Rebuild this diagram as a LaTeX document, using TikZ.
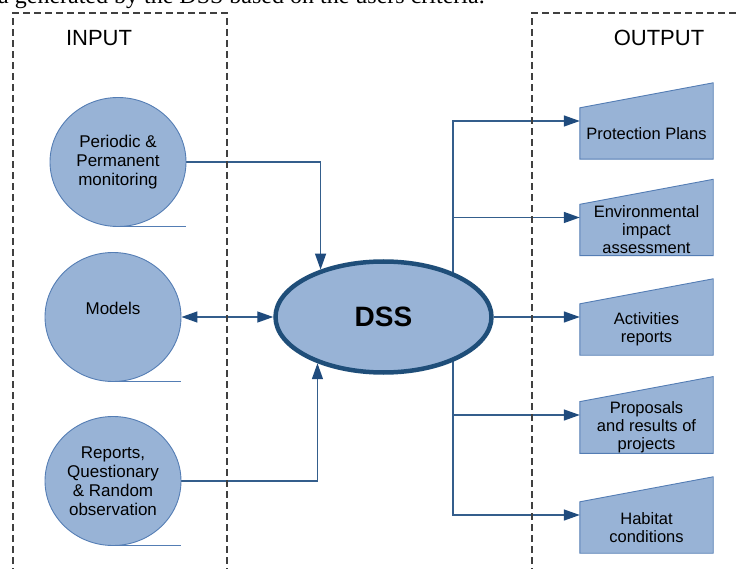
\documentclass[tikz,border=0pt]{standalone}
\usepackage{fontspec}
\setmainfont{Liberation Sans}
\newfontfamily\serifx{Liberation Serif}
\usetikzlibrary{arrows.meta,shapes.geometric,calc,backgrounds}
\definecolor{fillb}{RGB}{152,179,214}
\definecolor{edgeb}{RGB}{84,125,180}
\definecolor{linkb}{RGB}{52,94,140}
\definecolor{headb}{RGB}{31,75,125}
\definecolor{dssb}{RGB}{31,78,121}
\definecolor{dashc}{RGB}{64,64,64}
\begin{document}
\begin{tikzpicture}[x=1pt,y=-1pt,
  src/.style={ellipse, draw=edgeb, line width=0.9pt, fill=fillb, minimum width=136pt, minimum height=129pt, inner sep=0pt, align=center, font=\fontsize{17}{19}\selectfont},
  tail/.style={draw=edgeb, line width=1pt},
  obox/.style={minimum width=133pt, minimum height=51pt, inner sep=0pt, align=center, font=\fontsize{16.5}{18}\selectfont},
  oshape/.style={fill=fillb, draw=edgeb, line width=0.9pt},
  link/.style={draw=linkb, line width=1.4pt},
  arr/.style={link, -{Triangle[length=16pt,width=11pt,color=headb]}},
  biarr/.style={link, {Triangle[length=16pt,width=11pt,color=headb]}-{Triangle[length=16pt,width=11pt,color=headb]}},
  dssnode/.style={ellipse, draw=dssb, line width=4.5pt, fill=fillb, minimum width=216pt, minimum height=111pt, font=\fontsize{28}{32}\selectfont\bfseries},
  dashbox/.style={draw=dashc, line width=1.3pt, dash pattern=on 7pt off 4pt},
  headtext/.style={font=\fontsize{22}{26}\selectfont, inner sep=0pt}
]
\useasboundingbox (0,0) rectangle (736,569);
\clip (0,0) rectangle (736,569);

% caption fragment at top
\node[anchor=base west, inner sep=0pt, font=\serifx\fontsize{24}{28}\selectfont] (cap) at (-2,4) {a generated by the DSS based on the users criteria.};

% dashed frames
\draw[dashbox] (13,575) -- (13,13) -- (227,13) -- (227,575);
\draw[dashbox] (532,575) -- (532,13) -- (745,13);

\node[headtext] (hin) at (99,38) {INPUT};
\node[headtext] (hout) at (659,38) {OUTPUT};

% inputs
\node[src] (p1) at (118,162) {Periodic \&\\Permanent\\monitoring};
\node[src, text depth=18pt] (p2) at (113,317) {Models};
\node[src] (p3) at (113,481) {Reports,\\Questionary\\\& Random\\observation};
\draw[tail] (p1.south) -- (p1.south -| p1.east);
\draw[tail] (p2.south) -- (p2.south -| p2.east);
\draw[tail] (p3.south) -- (p3.south -| p3.east);

% DSS
\node[dssnode] (dss) at (383.5,317) {DSS};

% outputs
\node[obox] (o1) at (646.5,133.5) {Protection Plans};
\node[obox] (o2) at (646.5,230) {Environmental\\impact\\assessment};
\node[obox] (o3) at (646.5,329.5) {Activities\\reports};
\node[obox] (o4) at (646.5,427.5) {Proposals\\and results of\\projects};
\node[obox] (o5) at (646.5,527.5) {Habitat\\conditions};

\coordinate (tr) at (453,317);

\begin{scope}[on background layer]
  \foreach \o in {o1,o2,o3,o4,o5}{
    \path[oshape] (\o.south west) -- (\o.south east) -- ($(\o.north east)+(0,-25)$) -- (\o.north west) -- cycle;
  }
  \draw[arr] (p1.east) -| (dss.143.9);
  \draw[biarr] (p2.east) -- (dss.west);
  \draw[arr] (p3.east) -| (dss.215.5);
  \draw[arr] (tr) |- ($(o1.west)+(0,-12.5)$);
  \draw[arr] (tr) |- ($(o2.west)+(0,-12.5)$);
  \draw[arr] (dss.east) -- ($(o3.west)+(0,-12.5)$);
  \draw[arr] (tr) |- ($(o4.west)+(0,-12.5)$);
  \draw[arr] (tr) |- ($(o5.west)+(0,-12.5)$);
\end{scope}
\end{tikzpicture}
\end{document}
